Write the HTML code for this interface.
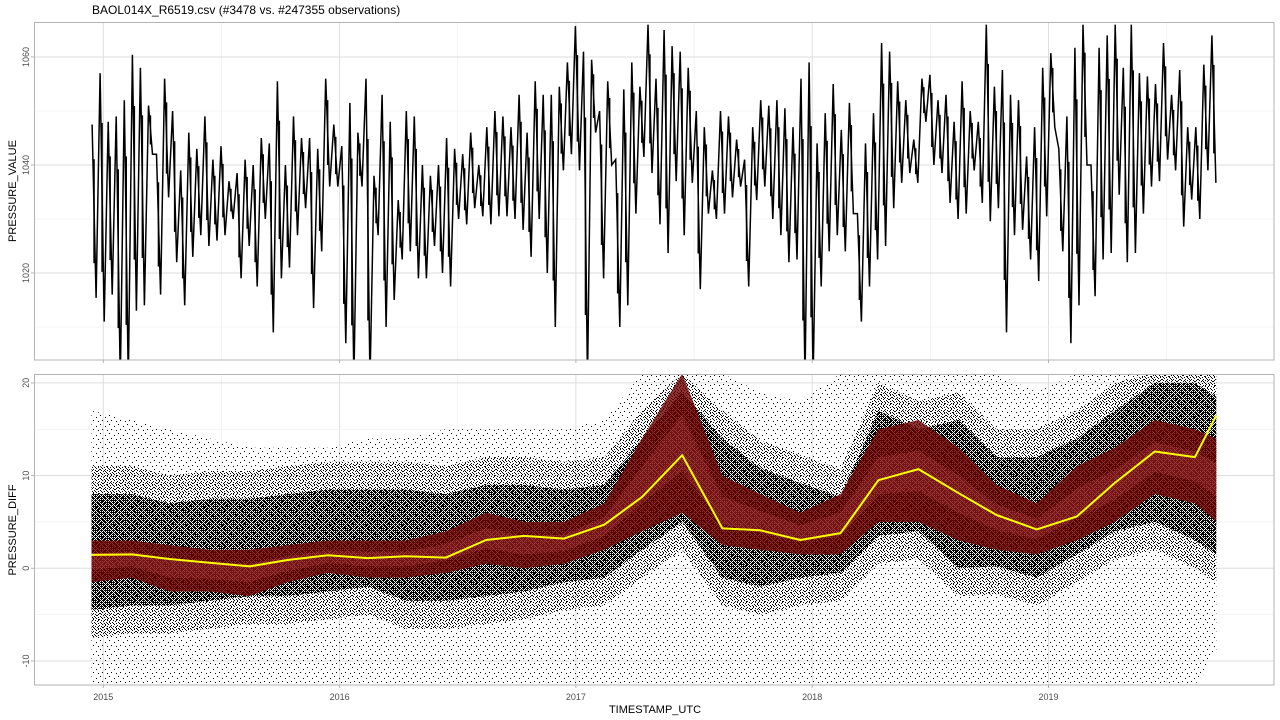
<!DOCTYPE html>
<html><head><meta charset="utf-8"><style>
html,body{margin:0;padding:0;background:#fff;}
svg{display:block;font-family:"Liberation Sans",sans-serif;}
</style></head><body>
<svg id="chart" width="1280" height="720" viewBox="0 0 1280 720" xmlns="http://www.w3.org/2000/svg">
<defs>
<pattern id="pDense" width="4" height="4" patternUnits="userSpaceOnUse">
<rect x="0" y="0" width="1" height="1" fill="#000"/><rect x="2" y="0" width="1" height="1" fill="#000"/><rect x="3" y="0" width="1" height="1" fill="#000"/>
<rect x="1" y="1" width="1" height="1" fill="#000"/><rect x="3" y="1" width="1" height="1" fill="#000"/>
<rect x="0" y="2" width="1" height="1" fill="#000"/><rect x="1" y="2" width="1" height="1" fill="#000"/><rect x="2" y="2" width="1" height="1" fill="#000"/>
<rect x="1" y="3" width="1" height="1" fill="#000"/><rect x="3" y="3" width="1" height="1" fill="#000"/>
</pattern>
<pattern id="pMid" width="6" height="6" patternUnits="userSpaceOnUse">
<rect x="0" y="0" width="1" height="1" fill="#000"/><rect x="3" y="1" width="1" height="1" fill="#000"/><rect x="5" y="2" width="1" height="1" fill="#000"/>
<rect x="1" y="3" width="1" height="1" fill="#000"/><rect x="4" y="4" width="1" height="1" fill="#000"/><rect x="2" y="5" width="1" height="1" fill="#000"/>
<rect x="5" y="5" width="1" height="1" fill="#000"/><rect x="2" y="2" width="1" height="1" fill="#000"/>
</pattern>
<pattern id="pSparse" width="9" height="9" patternUnits="userSpaceOnUse">
<rect x="1" y="1" width="1" height="1" fill="#000"/><rect x="6" y="3" width="1" height="1" fill="#000"/><rect x="3" y="6" width="1" height="1" fill="#000"/>
<rect x="8" y="7" width="1" height="1" fill="#000"/>
</pattern>
<clipPath id="clipTop"><rect x="34" y="22" width="1240" height="338"/></clipPath>
<clipPath id="clipBot"><rect x="34" y="374" width="1240" height="311"/></clipPath>
</defs>
<g id="grid"></g>
<g id="bottomMarks" clip-path="url(#clipBot)"></g>
<g id="topMarks" clip-path="url(#clipTop)"></g>
<rect x="34.5" y="22.5" width="1239.5" height="337.5" fill="none" stroke="#b3b3b3" stroke-width="1"/>
<rect x="34.5" y="374.5" width="1239.5" height="310.5" fill="none" stroke="#b3b3b3" stroke-width="1"/>
<g id="axes"></g>
<text x="92" y="14" font-size="12" fill="#000">BAOL014X_R6519.csv (#3478 vs. #247355 observations)</text>
<text x="655" y="713" font-size="11" fill="#000" text-anchor="middle">TIMESTAMP_UTC</text>
<text transform="translate(16,191) rotate(-90)" font-size="11" fill="#000" text-anchor="middle">PRESSURE_VALUE</text>
<text transform="translate(16,530) rotate(-90)" font-size="11" fill="#000" text-anchor="middle">PRESSURE_DIFF</text>
</svg>
<script>
// ---- data ----
const xTickYears = [2015, 2016, 2017, 2018, 2019];
const xMinorYears = [2015.5, 2016.5, 2017.5, 2018.5, 2019.5];
const topTicks = [1020, 1040, 1060];
const topMinor = [1010, 1030, 1050];
const botTicks = [-10, 0, 10, 20];
const botMinor = [-5, 5, 15];
const topStartYear = 2014.944;
const topEndYear = 2019.717;
const topHigh = [1047.5,1057,1048,1049,1052,1060.4,1058,1051,1042,1056,1050,1039,1046,1043,1049,1041,1043.5,1037,1038.5,1041,1040,1045,1044,1055.5,1040,1049,1045,1045,1043,1056,1047.5,1043.5,1051.5,1046,1056,1038,1053,1048,1033.5,1050,1049,1040,1038,1040,1045,1043,1042,1046,1040,
1047,1050,1049,1047,1053,1046,1055.5,1053,1053,1054.5,1059,1065.7,1061,1059.5,1050,1055.5,1041,1054,1059,1054.5,1066,1056,1065,1062,1061,1058,1050,1047,1039,1050,1049,1044.7,1041,1047,1052,1051,1052,1050.5,1047,1056,1059,1044,1049.6,1055,1046.5,1051.5,1031,1044,
1049.6,1062.6,1061,1055.5,1052,1044.7,1056,1056.7,1052,1053,1048,1055.5,1050,1048,1066,1054.5,1057.6,1053,1052,1041.6,1047,1058,1060.7,1043,1049,1061.7,1066,1040,1061.7,1064,1066,1058,1066,1057,1056.4,1055,1062.6,1053,1057.6,1047,1047,1058.6,1064];
const topLow = [1015.4,1011,1016,1000,1000,1013,1014,1042,1016,1034,1022,1014,1023,1027,1025,1026,1027,1030,1019,1025,1017.5,1030,1009,1019,1021,1027,1032,1013.5,1024,1036,1036,1007,1000,1036,1000,1027,1010,1015,1022.5,1024,1019,1019,1025,1020,1017.5,1030,1029,1032,1030.5,
1029,1030.5,1030.5,1030,1028,1023,1030,1020,1010,1039,1042,1039,1000,1046,1019,1040,1010,1014,1031,1041.5,1038.5,1029,1023.7,1037,1027,1036.7,1017,1031,1030,1031,1034,1036,1017.5,1033.5,1036,1030,1027,1022,1022.5,1000,1000,1017.5,1024,1027,1024,1031,1011,1017.5,
1022.5,1025,1032,1036.7,1038.5,1036.7,1048,1040,1038.5,1033,1030,1031,1039,1033,1029.6,1032,1009,1027,1028,1022.5,1018.5,1030.5,1047,1024,1007,1014,1040,1015.7,1022.5,1023.7,1034.5,1022,1023.7,1031,1036,1037,1041,1039,1028.6,1033.6,1030,1039,1036.7];
const diffTimes = [2014.95,2015.12,2015.28,2015.45,2015.62,2015.78,2015.95,2016.12,2016.28,2016.45,2016.62,2016.78,2016.95,2017.12,2017.28,2017.45,2017.62,2017.78,2017.95,2018.12,2018.28,2018.45,2018.62,2018.78,2018.95,2019.12,2019.28,2019.45,2019.62,2019.71];
const smoothDiff = [1.45,1.5,1.0,0.6,0.2,0.9,1.4,1.1,1.3,1.15,3.05,3.5,3.2,4.7,7.7,12.2,4.3,4.1,3.05,3.8,9.5,10.7,8.1,5.75,4.2,5.6,9.2,12.6,12.0,16.5];
const coreHigh = [8,8,7,7.5,7.5,8,8.5,8.5,8.5,8,9,9,8.5,9,14,19,14,10.8,9.2,7.7,17,15,16,12,12,14,17,20,20,18.5];
const coreLow = [-4.5,-4,-4,-3.5,-3,-3,-2.5,-2,-3.5,-3.5,-3,-2.5,-1.5,-1,2,5,-1,-2,-1,-0.5,3.5,4,0,0.2,-1,1.5,4,5,3,1.5];
const outerHigh = [17,16,15,14,13,13,13,14,14,15,15,15,15,16,21,21,21,19,18,21,21,21,21,21,19,21,21,21,21,21];
const outerLow = [-12.6,-12.6,-12.6,-12.6,-12.6,-12.6,-12.6,-12.6,-12.6,-12.6,-12.6,-12.6,-12.6,-12.6,-12.6,-12.6,-12.6,-12.6,-12.6,-12.6,-12.6,-12.6,-12.6,-12.6,-12.6,-12.6,-12.6,-12.6,-12.6,-9];
const redHigh = [3,3,2.5,2,2,2.5,3,3,3,4,6,5,5,7,14,21,10,8,6,8,15,16,13,9,7,11,13,16,15,14];
const redLow = [-1.5,-1,-2.5,-2.5,-3,-1.5,-0.5,-1,-1,-0.5,0.5,0,0.5,2,4,6,2.5,2,1.5,1.5,5,5,3,2,1.5,3,5,8,7,5];

// ---- scales ----
const X = t => 103.3 + (t - 2015) * 236.3;
const YT = v => 165 - (v - 1040) * 5.4;
const YB = v => 568.3 - v * 9.27;
const NS = "http://www.w3.org/2000/svg";
function mk(tag, attrs, parent){ const e = document.createElementNS(NS, tag); for (const k in attrs) e.setAttribute(k, attrs[k]); parent.appendChild(e); return e; }

const grid = document.getElementById('grid');
const axes = document.getElementById('axes');
const panels = [[22,360],[374,685]];
panels.forEach(([y0,y1]) => {
  xMinorYears.forEach(t => { const l = mk('line',{x1:X(t),x2:X(t),y1:y0,y2:y1,stroke:'#ededed','stroke-width':0.6},grid);
    
     });
  xTickYears.forEach(t => { const l = mk('line',{x1:X(t),x2:X(t),y1:y0,y2:y1,stroke:'#dedede','stroke-width':1},grid);
    
     });
});
topMinor.forEach(v => { const l = mk('line',{x1:34,x2:1274,y1:YT(v),y2:YT(v),stroke:'#ededed','stroke-width':0.6},grid);
  
   });
topTicks.forEach(v => { const l = mk('line',{x1:34,x2:1274,y1:YT(v),y2:YT(v),stroke:'#dedede','stroke-width':1},grid);
  
  
  const tk = mk('line',{x1:31,x2:34,y1:YT(v),y2:YT(v),stroke:'#b3b3b3'},axes);
  
  
  const tx = mk('text',{transform:`translate(29,${YT(v)}) rotate(-90)`,'font-size':9,fill:'#4d4d4d','text-anchor':'middle'},axes);
  tx.textContent = v;
  
   });
botMinor.forEach(v => { const l = mk('line',{x1:34,x2:1274,y1:YB(v),y2:YB(v),stroke:'#ededed','stroke-width':0.6},grid);
  
   });
botTicks.forEach(v => { const l = mk('line',{x1:34,x2:1274,y1:YB(v),y2:YB(v),stroke:'#dedede','stroke-width':1},grid);
  
  
  const tk = mk('line',{x1:31,x2:34,y1:YB(v),y2:YB(v),stroke:'#b3b3b3'},axes);
  
  
  const tx = mk('text',{transform:`translate(29,${YB(v)}) rotate(-90)`,'font-size':9,fill:'#4d4d4d','text-anchor':'middle'},axes);
  tx.textContent = v;
  
   });
xTickYears.forEach(t => {
  [360,685].forEach(y => { const tk = mk('line',{x1:X(t),x2:X(t),y1:y,y2:y+3,stroke:'#b3b3b3'},axes);
    
     });
  const tx = mk('text',{x:X(t),y:700,'font-size':9,fill:'#4d4d4d','text-anchor':'middle'},axes);
  tx.textContent = t;
  
  
});

// ---- top series ----
const topG = document.getElementById('topMarks');
const n = topHigh.length;
const step = (topEndYear - topStartYear) / n;
let pts = [];
for (let i = 0; i < n; i++) {
  const t = topStartYear + i * step;
  pts.push(X(t + step * 0.25).toFixed(1) + ',' + YT(topHigh[i]).toFixed(1));
  pts.push(X(t + step * 0.75).toFixed(1) + ',' + YT(topLow[i]).toFixed(1));
  const hiY = YT(topHigh[i]), loY = YT(topLow[i]);
  const bar = mk('rect',{x:(X(t + step * 0.4)).toFixed(1), y:(hiY + (loY-hiY)*0.2).toFixed(1), width:1.5, height:((loY-hiY)*0.6).toFixed(1), fill:'#000'},topG);
  
  
}
const topLine = mk('polyline',{points:pts.join(' '),fill:'none',stroke:'#000','stroke-width':1.5,'stroke-linejoin':'miter'},topG);



// ---- bottom series ----
const botG = document.getElementById('bottomMarks');
function band(hi, lo, fill, name){
  const up = diffTimes.map((t,i) => X(t).toFixed(1)+','+YB(hi[i]).toFixed(1));
  const dn = diffTimes.map((t,i) => X(t).toFixed(1)+','+YB(lo[i]).toFixed(1)).reverse();
  const p = mk('polygon',{points:up.concat(dn).join(' '),fill:fill},botG);
  
  
  return p;
}
band(outerHigh, outerLow, 'url(#pSparse)', 'diff-scatter-outer');
const midHi = coreHigh.map((v,i) => Math.min(outerHigh[i], v + 3));
const midLo = coreLow.map((v,i) => Math.max(outerLow[i], v - 3));
band(midHi, midLo, 'url(#pMid)', 'diff-scatter-mid');
band(coreHigh, coreLow, 'url(#pDense)', 'diff-scatter-core');
const rb = band(redHigh, redLow, '#6e0000', 'daily-diff-red-band');
rb.setAttribute('opacity','0.8');
const pinkHi = redHigh.map((v,i) => v - (v - redLow[i]) * 0.3);
const pinkLo = redLow.map((v,i) => v + (redHigh[i] - v) * 0.3);
const pk = band(pinkHi, pinkLo, '#e06060', 'daily-diff-inner-band');
pk.setAttribute('opacity','0.2');
const sm = diffTimes.map((t,i) => X(t).toFixed(1)+','+YB(smoothDiff[i]).toFixed(1)).join(' ');
const yl = mk('polyline',{points:sm,fill:'none',stroke:'#ffff00','stroke-width':2,'stroke-linejoin':'round'},botG);


</script>
</body></html>
